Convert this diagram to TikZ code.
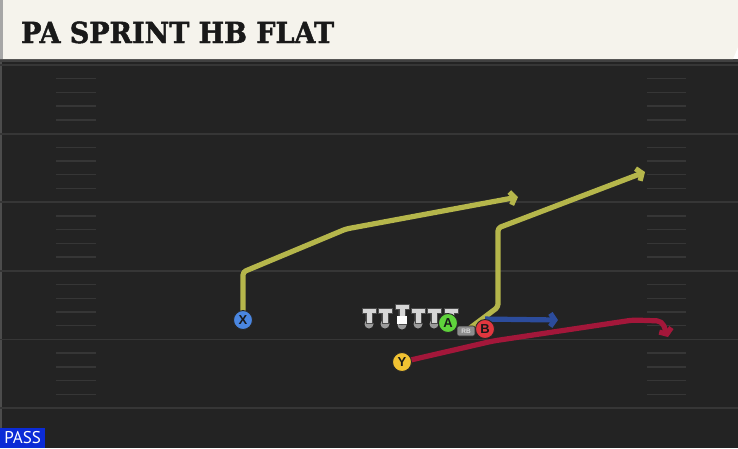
\documentclass[tikz,border=0pt]{standalone}
\usepackage{fontspec}
\newfontfamily\titlefont[BoldFeatures={FakeBold=1.6,FakeStretch=0.93}]{DejaVu Serif}
\newfontfamily\labelfont{Liberation Sans}
\newfontfamily\passfont{PT Sans}
\usetikzlibrary{
  arrows.meta,
  backgrounds,
  calc
}
\definecolor{fieldbg}{HTML}{232323}
\definecolor{fieldline}{HTML}{363636}
\definecolor{headbg}{HTML}{F5F3EC}
\definecolor{passblue}{HTML}{0B2BD6}
\definecolor{olive}{HTML}{B5B64B}
\definecolor{navy}{HTML}{2C4C9C}
\definecolor{crimson}{HTML}{A3173A}
\definecolor{xblue}{HTML}{4A86E0}
\definecolor{agreen}{HTML}{5FD33C}
\definecolor{bred}{HTML}{E1373F}
\definecolor{yyellow}{HTML}{F1C232}
\definecolor{tgray}{HTML}{D6D6D6}
\definecolor{knob}{HTML}{9A9A9A}

\tikzset{
  lineman/.pic={
    \fill[knob] (0,0) circle (4.5);
    \filldraw[tgray,draw=black!70,line width=0.4pt] (-3.2,-1) -- (-3.2,-11) -- (-7,-11) -- (-7,-15.5) -- (7,-15.5) -- (7,-11) -- (3.2,-11) -- (3.2,-1) -- cycle;
  },
  center/.pic={
    \fill[knob] (0,0) circle (4.5);
    \filldraw[tgray,draw=black!70,line width=0.4pt] (-3.2,-1) -- (-3.2,-16) -- (-7,-16) -- (-7,-20.5) -- (7,-20.5) -- (7,-16) -- (3.2,-16) -- (3.2,-1) -- cycle;
    \fill[white] (-4.8,-9) rectangle (4.8,-1.5);
  }
}

\begin{document}
\begin{tikzpicture}[x=1pt,y=-1pt,
  player/.style={circle,draw=black!85,line width=0.9pt,minimum size=19pt,inner sep=0pt,text=black!90,font=\labelfont\bfseries\fontsize{13}{13}\selectfont},
  route/.style={line width=5.2pt,line join=round,rounded corners=3pt,-{Straight Barb[length=4.5pt,width=13pt]}},
  hash/.style={fieldline,line width=1.4pt},
]
	\useasboundingbox (0,0) rectangle (738,448);

	% line
	\foreach \tx in {369,385,418,434,451}{
		\pic at (\tx,324) {lineman};
	}
	\pic at (402,325) {center};

	% players
	\node[player,fill=xblue] (X) at (243,320) {X};
	\node[player,fill=yyellow] (Y) at (402,362) {Y};
	\node[player,fill=agreen] (A) at (448,323) {A};
	\node[player,fill=bred] (B) at (485,329) {B};
	\node[rounded corners=2pt,fill=black!45,draw=black!85,line width=0.6pt,inner sep=0pt,minimum width=18pt,minimum height=10pt,text=white!85!black,font=\labelfont\bfseries\fontsize{6.5}{6.5}\selectfont] (RB) at (466,331) {RB};

	\begin{pgfonlayer}{background}
	% field
	\fill[fieldbg] (0,59) rectangle (738,448);
	\fill[black!75] (0,59) rectangle (738,62);
	\fill[black!70!white] (0,62) rectangle (2,448);
	\foreach \k in {0,...,5}{
		\pgfmathsetmacro\ly{65+68.6*\k}
		\draw[fieldline,line width=1.8pt] (0,\ly) -- (738,\ly);
	}
	\foreach \k in {0,...,4}{
		\foreach \j in {1,...,4}{
			\pgfmathsetmacro\hy{65+68.6*\k+13.7*\j}
			\draw[hash] (56,\hy) -- (96,\hy);
			\draw[hash] (647,\hy) -- (686,\hy);
		}
	}
	% header
	\fill[headbg] (0,0) -- (738,0) -- (738,47) -- (733,59) -- (0,59) -- cycle;
	\fill[black!35] (0,0) rectangle (3,59);

	% routes
	\coordinate (x1) at (243,272);
	\coordinate (x2) at (346,229);
	\coordinate (xend) at (518,197);
	\draw[route,olive] (X.center) -- (x1) -- (x2) -- (xend);
	\coordinate (h1) at (498,307);
	\coordinate (h2) at (498,228);
	\coordinate (hend) at (645,172);
	\draw[route,olive] (RB.center) -- (h1) -- (h2) -- (hend);
	\coordinate (bend) at (558,320);
	\draw[route,navy] (B.north) -- (bend);
	\coordinate (y1) at (493,341);
	\coordinate (y2) at (633,320);
	\coordinate (y3) at (662,321);
	\coordinate (yend) at (668,337);
	\draw[route,crimson,rounded corners=5pt] (Y.center) -- (y1) -- (y2) -- (y3) -- (yend);
	\end{pgfonlayer}

	\node[anchor=base west,inner sep=0pt,text=black!90,font=\titlefont\bfseries\fontsize{29}{29}\selectfont] (title) at (21,43) {PA SPRINT HB FLAT};
	\node[anchor=south west,fill=passblue,text=white,inner sep=0pt,minimum width=45pt,minimum height=20pt,font=\passfont\fontsize{17}{17}\selectfont] (mode) at (0,448) {PASS};
\end{tikzpicture}
\end{document}
